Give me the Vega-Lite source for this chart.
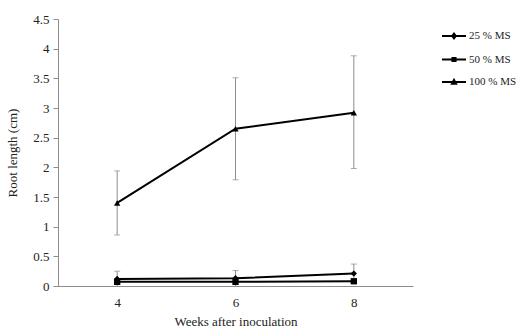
{
  "$schema": "https://vega.github.io/schema/vega-lite/v6.json",
  "width": 355,
  "height": 267,
  "autosize": {"type": "none"},
  "padding": {"left": 58, "top": 19, "right": 104, "bottom": 46},
  "background": "white",
  "config": {
    "view": {"stroke": null},
    "font": "Liberation Serif",
    "axis": {"labelFont": "Liberation Serif", "titleFont": "Liberation Serif", "labelColor": "#222", "titleColor": "#222", "domainColor": "#8c8c8c", "tickColor": "#8c8c8c", "grid": false, "titleFontWeight": "normal", "labelOverlap": false},
    "axisY": {"tickCount": 10, "format": "~g", "labelOverlap": false}
  },
  "data": {
    "values": [
      {"series": "25 % MS", "week": 4, "mean": 0.12, "lo": 0, "hi": 0.25},
      {"series": "25 % MS", "week": 6, "mean": 0.13, "lo": 0, "hi": 0.26},
      {"series": "25 % MS", "week": 8, "mean": 0.21, "lo": 0.05, "hi": 0.37},
      {"series": "50 % MS", "week": 4, "mean": 0.07, "lo": null, "hi": null},
      {"series": "50 % MS", "week": 6, "mean": 0.07, "lo": null, "hi": null},
      {"series": "50 % MS", "week": 8, "mean": 0.08, "lo": null, "hi": null},
      {"series": "100 % MS", "week": 4, "mean": 1.40, "lo": 0.86, "hi": 1.94},
      {"series": "100 % MS", "week": 6, "mean": 2.65, "lo": 1.79, "hi": 3.51},
      {"series": "100 % MS", "week": 8, "mean": 2.92, "lo": 1.98, "hi": 3.88}
    ]
  },
  "encoding": {
    "x": {
      "field": "week", "type": "quantitative",
      "scale": {"domain": [3, 9], "nice": false, "zero": false},
      "axis": {"values": [4, 6, 8], "ticks": false, "labelPadding": 10, "labelFontSize": 13, "title": "Weeks after inoculation", "titleFontSize": 13, "titlePadding": 6}
    }
  },
  "resolve": {"scale": {"shape": "independent"}},
  "layer": [
    {
      "transform": [{"filter": "datum.hi != null"}],
      "mark": {"type": "rule", "color": "#8c8c8c", "strokeWidth": 1},
      "encoding": {
        "y": {
          "field": "lo", "type": "quantitative",
          "scale": {"domain": [0, 4.5], "nice": false},
          "axis": {"values": [0, 0.5, 1, 1.5, 2, 2.5, 3, 3.5, 4, 4.5], "tickCount": 10, "format": "~g", "labelFontSize": 13, "tickSize": 5, "labelPadding": 4, "labelOverlap": false, "title": "Root length (cm)", "titleFontSize": 13, "titlePadding": 13}
        },
        "y2": {"field": "hi"}
      }
    },
    {
      "transform": [{"filter": "datum.hi != null"}],
      "mark": {"type": "tick", "orient": "horizontal", "color": "#8c8c8c", "size": 6, "thickness": 1},
      "encoding": {"y": {"field": "hi", "type": "quantitative"}}
    },
    {
      "transform": [{"filter": "datum.hi != null && datum.lo > 0"}],
      "mark": {"type": "tick", "orient": "horizontal", "color": "#8c8c8c", "size": 6, "thickness": 1},
      "encoding": {"y": {"field": "lo", "type": "quantitative"}}
    },
    {
      "mark": {"type": "line", "color": "black", "strokeWidth": 2},
      "encoding": {
        "y": {"field": "mean", "type": "quantitative"},
        "detail": {"field": "series"}
      }
    },
    {
      "mark": {"type": "point", "filled": true, "color": "black", "opacity": 1},
      "encoding": {
        "y": {"field": "mean", "type": "quantitative"},
        "shape": {
          "field": "series", "type": "nominal",
          "scale": {"domain": ["25 % MS", "50 % MS", "100 % MS"], "range": ["diamond", "square", "triangle-up"]},
          "legend": null
        },
        "size": {"value": 40}
      }
    },
    {
      "mark": {"type": "point", "filled": false, "color": "black", "strokeWidth": 2, "opacity": 0},
      "encoding": {
        "y": {"field": "mean", "type": "quantitative"},
        "shape": {
          "field": "series", "type": "nominal",
          "scale": {"domain": ["25 % MS", "50 % MS", "100 % MS"], "range": ["M-1,0L1,0M0,-0.2L0.15,0L0,0.2L-0.15,0Z", "M-1,0L1,0M-0.13,-0.13L0.13,-0.13L0.13,0.13L-0.13,0.13Z", "M-1,0L1,0M-0.17,0.14L0,-0.18L0.17,0.14Z"]},
          "legend": {
            "title": null,
            "orient": "none",
            "legendX": 383,
            "legendY": 4,
            "symbolSize": 576,
            "symbolStrokeColor": "black",
            "symbolStrokeWidth": 2,
            "symbolOpacity": 1,
            "labelFont": "Liberation Serif",
            "labelFontSize": 11,
            "labelColor": "#222",
            "labelOffset": 2,
            "rowPadding": 3.5
          }
        },
        "size": {"value": 40}
      }
    }
  ]
}
